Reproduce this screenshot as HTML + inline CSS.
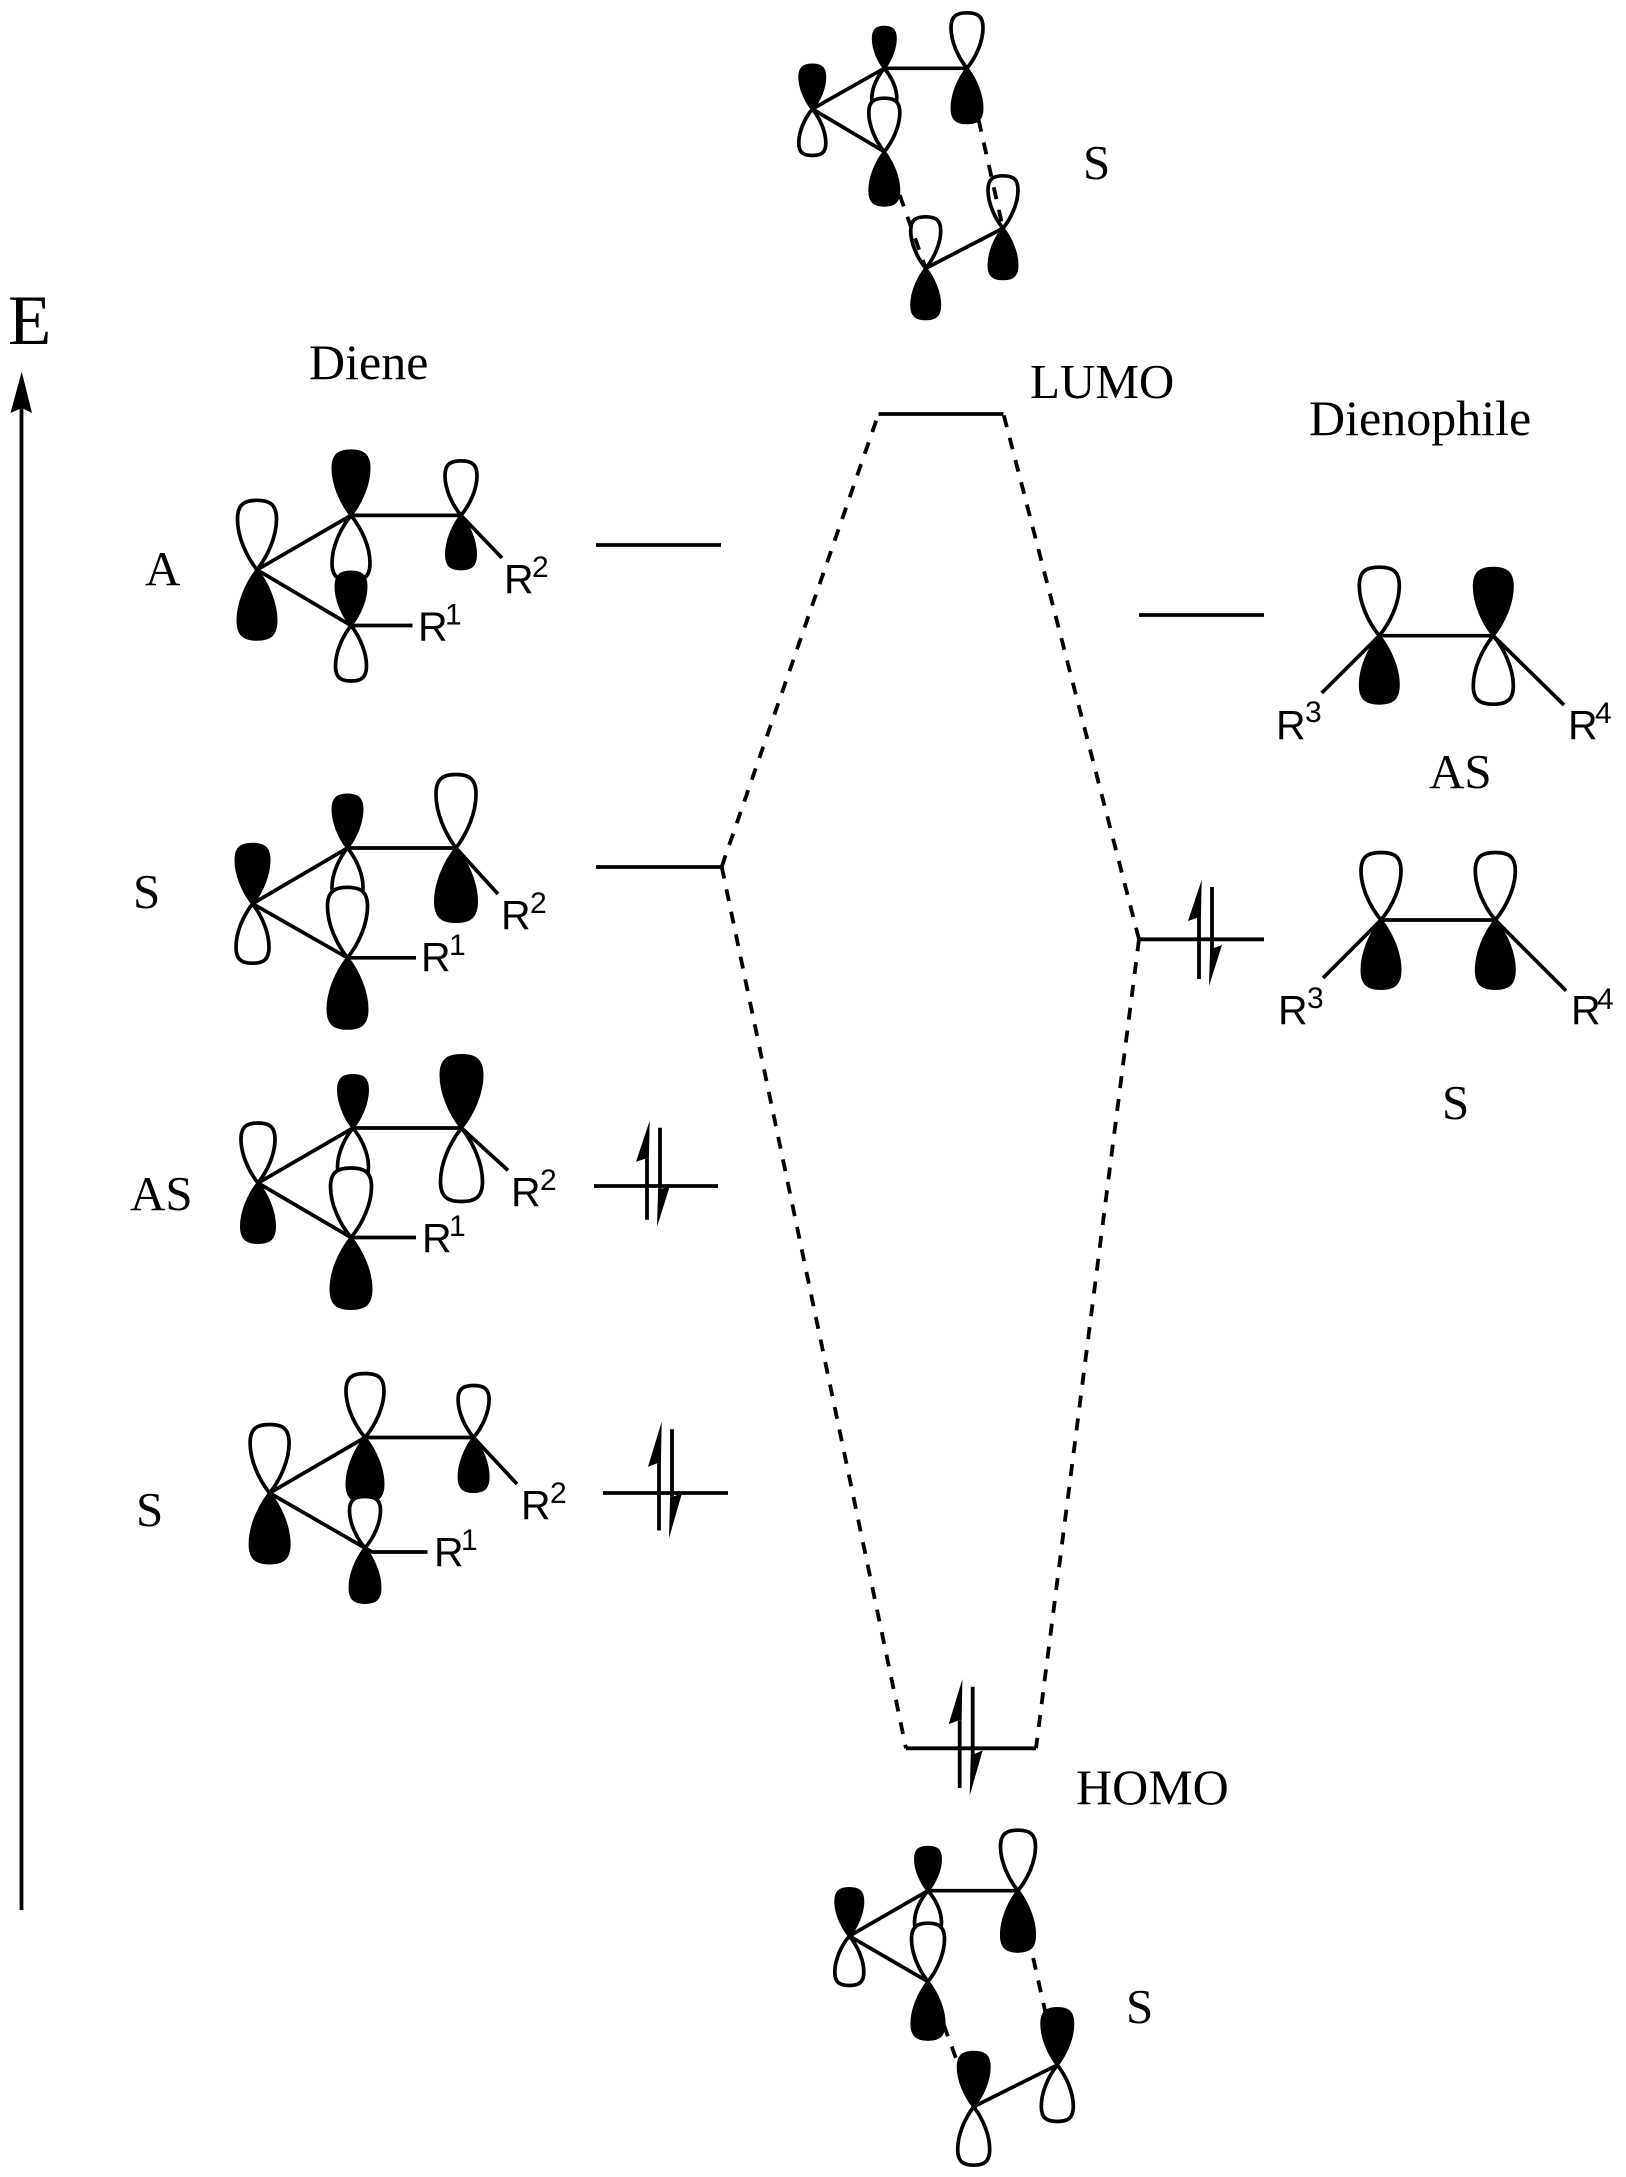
<!DOCTYPE html>
<html><head><meta charset="utf-8"><style>
html,body{margin:0;padding:0;background:#fff}
svg{display:block}
.w{fill:#fff;stroke:#000;stroke-width:3.7}
.b{fill:#000;stroke:#000;stroke-width:3}
.l{fill:none;stroke:#000;stroke-width:3.7}
.e{fill:none;stroke:#000;stroke-width:3.8}
.d{fill:none;stroke:#000;stroke-width:3.8;stroke-dasharray:12 11}
.t{font-family:"Liberation Serif",serif;font-size:49px;fill:#000}
.r{font-family:"Liberation Sans",sans-serif;font-size:41px;fill:#000}
.s{font-family:"Liberation Sans",sans-serif;font-size:30px;fill:#000}
</style></head><body>
<svg xmlns="http://www.w3.org/2000/svg" width="1626" height="2177" viewBox="0 0 1626 2177">
<defs>
<path id="L" vector-effect="non-scaling-stroke" d="M0 0C-.28-.2-.5-.48-.5-.73C-.5-.94-.33-1 0-1C.33-1 .5-.94 .5-.73C.5-.48 .28-.2 0 0Z"/>
<g id="Sp">
<path d="M0 38V99M13 7V68" fill="none" stroke="#000" stroke-width="3.8"/>
<path d="M2.7 0L-11 41L-2 38L1.9 38Z"/>
<path d="M10 106L23 65L14.9 68L11.1 68Z"/>
</g>
</defs>

<!-- Energy axis -->
<text x="8" y="344" style="font-family:'Liberation Serif',serif;font-size:71px">E</text>
<path d="M21.5 405V1910" fill="none" stroke="#000" stroke-width="3.8"/>
<path d="M21.7 371.7L32 413L21.7 408L10.5 413Z"/>

<!-- labels -->
<text class="t" x="309" y="379" style="font-size:50px">Diene</text>
<text class="t" x="1309" y="435" style="font-size:50px">Dienophile</text>
<text class="t" x="1030" y="398">LUMO</text>
<text class="t" x="1076" y="1804" style="font-size:50px">HOMO</text>
<text class="t" x="145" y="585">A</text>
<text class="t" x="133" y="908">S</text>
<text class="t" x="130" y="1210">AS</text>
<text class="t" x="136" y="1526">S</text>
<text class="t" x="1429" y="788">AS</text>
<text class="t" x="1442" y="1119">S</text>
<text class="t" x="1083" y="179">S</text>
<text class="t" x="1126" y="2023">S</text>

<!-- Diene A -->
<use href="#L" class="w" transform="translate(257 569.8) scale(39 69.5)"/>
<use href="#L" class="b" transform="translate(257 569.8) scale(38 -69.5)"/>
<use href="#L" class="b" transform="translate(351 515.4) scale(36 64.5)"/>
<use href="#L" class="w" transform="translate(351 515.4) scale(38 -65.5)"/>
<use href="#L" class="w" transform="translate(461 515.4) scale(32 54.5)"/>
<use href="#L" class="b" transform="translate(461 515.4) scale(29 -53.5)"/>
<use href="#L" class="b" transform="translate(351 625.5) scale(30 53.5)"/>
<use href="#L" class="w" transform="translate(351 625.5) scale(31 -55.5)"/>
<path class="l" d="M257 569.8L351 515.4H461L502 558M257 569.8L351 625.5H412.5"/>
<text class="r" x="504" y="593">R</text><text class="s" x="532" y="577">2</text>
<text class="r" x="418" y="640.6">R</text><text class="s" x="445" y="624.7">1</text>
<path class="e" d="M596 545H721"/>

<!-- Diene S -->
<use href="#L" class="b" transform="translate(252.5 903.7) scale(33 59.5)"/>
<use href="#L" class="w" transform="translate(252.5 903.7) scale(33 -59.5)"/>
<use href="#L" class="b" transform="translate(347.5 848) scale(29 53)"/>
<use href="#L" class="w" transform="translate(347.5 848) scale(31 -53.5)"/>
<use href="#L" class="w" transform="translate(456 848) scale(40 73.5)"/>
<use href="#L" class="b" transform="translate(456 848) scale(41 -73.5)"/>
<use href="#L" class="w" transform="translate(347.5 957.8) scale(40 70.5)"/>
<use href="#L" class="b" transform="translate(347.5 957.8) scale(39 -70.5)"/>
<path class="l" d="M252.5 903.7L347.5 848H456L498 894M252.5 903.7L347.5 957.8H416"/>
<text class="r" x="501" y="929">R</text><text class="s" x="530" y="913">2</text>
<text class="r" x="421" y="971">R</text><text class="s" x="449" y="955">1</text>
<path class="e" d="M596 867H721.7"/>

<!-- Diene AS -->
<use href="#L" class="w" transform="translate(258 1183) scale(34 60)"/>
<use href="#L" class="b" transform="translate(258 1183) scale(33 -59.5)"/>
<use href="#L" class="b" transform="translate(353 1128) scale(29 52.5)"/>
<use href="#L" class="w" transform="translate(353 1128) scale(31 -53)"/>
<use href="#L" class="b" transform="translate(461.5 1128) scale(41 72.5)"/>
<use href="#L" class="w" transform="translate(461.5 1128) scale(42 -73.5)"/>
<use href="#L" class="w" transform="translate(351 1237.5) scale(41 69.5)"/>
<use href="#L" class="b" transform="translate(351 1237.5) scale(40 -71)"/>
<path class="l" d="M258 1183L353 1128H461.5L508 1170.4M258 1183L351 1237.5H416"/>
<text class="r" x="511" y="1206">R</text><text class="s" x="540" y="1190">2</text>
<text class="r" x="422" y="1252">R</text><text class="s" x="449" y="1236">1</text>
<path class="e" d="M594 1186H718"/>
<use href="#Sp" transform="translate(647 1120.7)"/>

<!-- Diene S lower -->
<use href="#L" class="w" transform="translate(269.6 1493) scale(39 68.5)"/>
<use href="#L" class="b" transform="translate(269.6 1493) scale(39 -70)"/>
<use href="#L" class="w" transform="translate(365 1437.5) scale(38 64)"/>
<use href="#L" class="b" transform="translate(365 1437.5) scale(36 -64)"/>
<use href="#L" class="w" transform="translate(473.6 1437.5) scale(31 52)"/>
<use href="#L" class="b" transform="translate(473.6 1437.5) scale(29 -54)"/>
<use href="#L" class="w" transform="translate(365 1548) scale(31 51.5)"/>
<use href="#L" class="b" transform="translate(365 1548) scale(30 -54.5)"/>
<path class="l" d="M269.6 1493L365 1437.5H473.6L517 1484M269.6 1493L365 1548L372 1552H427.5"/>
<text class="r" x="521" y="1519">R</text><text class="s" x="550" y="1503">2</text>
<text class="r" x="434" y="1566">R</text><text class="s" x="461" y="1550">1</text>
<path class="e" d="M603 1493H728"/>
<use href="#Sp" transform="translate(659 1421.6) scale(1 1.1)"/>

<!-- Dienophile AS -->
<use href="#L" class="w" transform="translate(1379.3 635.7) scale(40 68.5)"/>
<use href="#L" class="b" transform="translate(1379.3 635.7) scale(38 -67.5)"/>
<use href="#L" class="b" transform="translate(1493.3 635.7) scale(38 67.5)"/>
<use href="#L" class="w" transform="translate(1493.3 635.7) scale(40 -68.5)"/>
<path class="l" d="M1321.7 693L1379.3 635.7H1493.3L1564 705"/>
<text class="r" x="1276" y="739">R</text><text class="s" x="1305" y="722">3</text>
<text class="r" x="1568" y="739">R</text><text class="s" x="1595" y="723">4</text>
<path class="e" d="M1139 615H1264"/>

<!-- Dienophile S -->
<use href="#L" class="w" transform="translate(1381 920) scale(40 67.5)"/>
<use href="#L" class="b" transform="translate(1381 920) scale(38 -68.5)"/>
<use href="#L" class="w" transform="translate(1495.3 920) scale(40 67.5)"/>
<use href="#L" class="b" transform="translate(1495.3 920) scale(38 -68.5)"/>
<path class="l" d="M1323 978L1381 920H1495.3L1566 990.7"/>
<text class="r" x="1278" y="1024">R</text><text class="s" x="1307" y="1008">3</text>
<text class="r" x="1571" y="1024">R</text><text class="s" x="1597" y="1009">4</text>
<path class="e" d="M1139 939.3H1264"/>
<use href="#Sp" transform="translate(1199 880)"/>

<!-- MO levels -->
<path class="e" d="M878.5 414H1003.5"/>
<path class="e" d="M906 1748.3H1036"/>
<use href="#Sp" transform="translate(959.7 1679) scale(1 1.1)"/>
<path class="d" d="M721.7 866.7L878.5 414"/>
<path class="d" d="M721.7 866.7L906 1748.3"/>
<path class="d" d="M1139 939.3L1003.5 414"/>
<path class="d" d="M1139 939.3L1036 1748.3"/>

<!-- Top TS (LUMO) -->
<use href="#L" class="b" transform="translate(812.3 109) scale(25 44)"/>
<use href="#L" class="w" transform="translate(812.3 109) scale(27 -46.5)"/>
<use href="#L" class="b" transform="translate(884.3 68.3) scale(22 41)"/>
<use href="#L" class="w" transform="translate(884.3 68.3) scale(25 -41)"/>
<use href="#L" class="w" transform="translate(967 68.3) scale(32 55.5)"/>
<use href="#L" class="b" transform="translate(967 68.3) scale(30 -54.5)"/>
<use href="#L" class="w" transform="translate(884.3 151.7) scale(31 53.5)"/>
<use href="#L" class="b" transform="translate(884.3 151.7) scale(29 -53.5)"/>
<use href="#L" class="w" transform="translate(925.7 268.3) scale(30 51.5)"/>
<use href="#L" class="b" transform="translate(925.7 268.3) scale(28 -50.5)"/>
<use href="#L" class="w" transform="translate(1003 228.3) scale(30 52.5)"/>
<use href="#L" class="b" transform="translate(1003 228.3) scale(28 -50.5)"/>
<path class="l" d="M812.3 109L884.3 68.3H967M812.3 109L884.3 151.7M925.7 268.3L1003 228.3"/>
<path class="d" d="M884.3 151.7L925.7 268.3"/>
<path class="d" style="stroke-dashoffset:-7" d="M967 68.3L1003 228.3"/>

<!-- Bottom TS (HOMO) -->
<use href="#L" class="b" transform="translate(849.3 1936) scale(27 47.5)"/>
<use href="#L" class="w" transform="translate(849.3 1936) scale(29 -49.5)"/>
<use href="#L" class="b" transform="translate(928 1890.7) scale(25 43.5)"/>
<use href="#L" class="w" transform="translate(928 1890.7) scale(27 -43)"/>
<use href="#L" class="w" transform="translate(1018 1890.7) scale(35 60.5)"/>
<use href="#L" class="b" transform="translate(1018 1890.7) scale(33 -60.5)"/>
<use href="#L" class="w" transform="translate(928 1981.7) scale(33 58.5)"/>
<use href="#L" class="b" transform="translate(928 1981.7) scale(32 -57.5)"/>
<path class="d" d="M928 1981.7L973.7 2106.7"/>
<path class="d" d="M1018 1890.7L1057.3 2065"/>
<use href="#L" class="b" transform="translate(928 1981.7) scale(32 -57.5)"/>
<use href="#L" class="b" transform="translate(1018 1890.7) scale(33 -60.5)"/>
<use href="#L" class="b" transform="translate(973.7 2106.7) scale(31 54.5)"/>
<use href="#L" class="w" transform="translate(973.7 2106.7) scale(32 -58.5)"/>
<use href="#L" class="b" transform="translate(1057.3 2065) scale(31 56.5)"/>
<use href="#L" class="w" transform="translate(1057.3 2065) scale(32 -56.5)"/>
<path class="l" d="M849.3 1936L928 1890.7H1018M849.3 1936L928 1981.7M973.7 2106.7L1057.3 2065"/>
</svg>
</body></html>
